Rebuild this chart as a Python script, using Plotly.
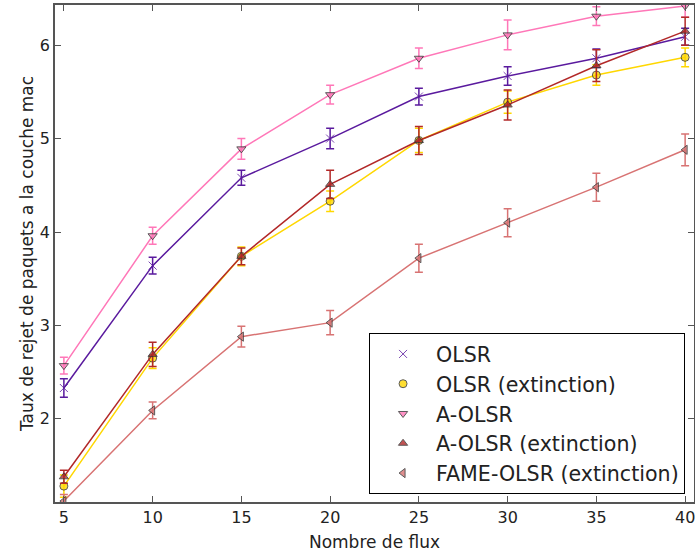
import plotly.graph_objects as go

# Nombre de flux
flux = [5, 10, 15, 20, 25, 30, 35, 40]

olsr = [2.33, 3.64, 4.58, 5.00, 5.45, 5.67, 5.86, 6.09]
olsr_err = [0.10, 0.09, 0.08, 0.11, 0.09, 0.10, 0.10, 0.09]

olsr_ext = [1.28, 2.65, 3.74, 4.33, 4.98, 5.39, 5.68, 5.87]
olsr_ext_err = [0.12, 0.11, 0.10, 0.11, 0.13, 0.12, 0.11, 0.10]

aolsr = [2.57, 3.96, 4.89, 5.47, 5.86, 6.11, 6.31, 6.42]
aolsr_err = [0.09, 0.09, 0.11, 0.10, 0.11, 0.16, 0.10, 0.12]

aolsr_ext = [1.38, 2.69, 3.74, 4.51, 4.98, 5.36, 5.78, 6.15]
aolsr_ext_err = [0.07, 0.13, 0.09, 0.15, 0.15, 0.16, 0.17, 0.15]

fame = [1.12, 2.09, 2.88, 3.03, 3.72, 4.10, 4.48, 4.88]
fame_err = [0.07, 0.09, 0.11, 0.13, 0.15, 0.15, 0.15, 0.17]

names = ['OLSR', 'OLSR (extinction)', 'A-OLSR', 'A-OLSR (extinction)', 'FAME-OLSR (extinction)']
series = [olsr, olsr_ext, aolsr, aolsr_ext, fame]
errors = [olsr_err, olsr_ext_err, aolsr_err, aolsr_ext_err, fame_err]
colors = ['#5a1a9e', '#ffd700', '#ff77b8', '#b22828', '#d87373']
symbols = ['x-thin', 'circle', 'triangle-down', 'triangle-up', 'triangle-left']

fig = go.Figure()

for name, y, err, c, s in zip(names, series, errors, colors, symbols):
    edge = c if s == 'x-thin' else '#333333'
    fig.add_trace(go.Scatter(
        x=flux, y=y, mode='lines+markers', name=name, showlegend=False,
        line=dict(color=c, width=1.5),
        marker=dict(symbol=s, size=8, color=c, opacity=0.8, line=dict(color=edge, width=1)),
        error_y=dict(type='data', array=err, color=c, thickness=1.5, width=4),
    ))
    # legend entry: marker only, like the matplotlib errorbar legend
    fig.add_trace(go.Scatter(
        x=[None], y=[None], mode='markers', name=name,
        marker=dict(symbol=s, size=8, color=c, opacity=0.8, line=dict(color=edge, width=1)),
    ))

fig.update_layout(
    width=695, height=552,
    margin=dict(l=55, r=1, t=5, b=50),
    plot_bgcolor='white', paper_bgcolor='white',
    font=dict(family='DejaVu Sans', color='#222222'),
    legend=dict(x=0.986, y=0.016, xanchor='right', yanchor='bottom',
                bordercolor='black', borderwidth=1, bgcolor='white',
                font=dict(size=20.6), tracegroupgap=0, itemwidth=56),
)
fig.update_xaxes(
    range=[4.5, 40.5], tickvals=flux, ticks='inside', ticklen=6,
    showgrid=False, zeroline=False, mirror='ticks', showline=True,
    linecolor='#555555', linewidth=1.5, tickcolor='#555555',
    tickfont=dict(size=16), automargin=False, ticklabeloverflow='allow',
    title=dict(text='Nombre de flux', font=dict(size=17), standoff=14),
)
fig.update_yaxes(
    range=[1.11, 6.43], tickvals=[2, 3, 4, 5, 6], ticks='inside', ticklen=6,
    showgrid=False, zeroline=False, mirror='ticks', showline=True,
    linecolor='#555555', linewidth=1.5, tickcolor='#555555',
    tickfont=dict(size=16), automargin=False, ticklabeloverflow='allow',
    title=dict(text='Taux de rejet de paquets a la couche mac', font=dict(size=17), standoff=2),
)

# drop the page's default body margin so the figure sits at the window corner
fig.write_html('out.html', config={'displayModeBar': False},
               post_script="document.body.style.margin='0';")
